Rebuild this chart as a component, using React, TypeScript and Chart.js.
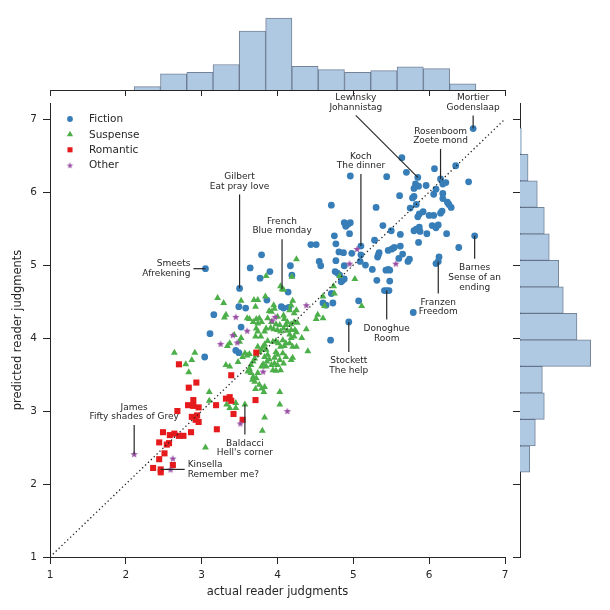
import React, { useEffect, useRef } from "react";
import { Chart, registerables } from "chart.js";
import { drawPoint } from "chart.js/helpers";

Chart.register(...registerables);

const FONT = '"DejaVu Sans", "Liberation Sans", sans-serif';
const INK = "#262626";
const BLUE = "#377eb8";
const GREEN = "#4daf4a";
const RED = "#e41a1c";
const PURPLE = "#984ea3";
const HIST_FILL = "rgb(176,201,227)";
const HIST_EDGE = "rgba(80,100,126,0.8)";

// ---- scatter data: [actual, predicted] ----
const fictionPoints: number[][] = [
  [6.58, 6.87], [5.64, 6.47], [6.07, 6.32], [6.35, 6.36], [5.70, 6.27], [4.96, 6.22], [5.44, 6.21],
  [5.85, 6.20], [6.15, 6.18], [6.22, 6.13], [5.82, 6.11], [5.86, 6.08], [5.96, 6.09], [6.52, 6.14],
  [6.18, 6.11], [5.80, 6.05], [6.09, 6.04], [5.61, 5.95], [5.80, 5.94], [5.78, 5.92], [6.18, 5.98],
  [6.06, 5.97], [6.18, 5.91], [6.24, 5.86], [6.26, 5.83], [6.29, 5.79], [4.71, 5.82], [5.30, 5.79],
  [5.83, 5.83], [5.75, 5.78], [5.87, 5.70], [5.85, 5.66], [5.92, 5.73], [6.00, 5.68], [6.06, 5.68],
  [6.15, 5.71], [6.17, 5.74], [4.88, 5.58], [4.93, 5.56], [4.96, 5.58], [4.90, 5.53], [5.39, 5.54],
  [6.04, 5.54], [6.09, 5.51], [6.12, 5.55], [5.87, 5.52], [5.83, 5.49], [5.80, 5.47], [5.88, 5.46],
  [5.97, 5.43], [6.23, 5.43], [4.75, 5.40], [4.95, 5.43], [5.50, 5.47], [5.62, 5.42], [6.60, 5.40],
  [5.86, 5.31], [6.39, 5.24], [4.77, 5.29], [4.44, 5.28], [4.51, 5.28], [5.10, 5.26], [5.28, 5.34],
  [4.81, 5.18], [4.87, 5.17], [4.98, 5.16], [5.10, 5.14], [5.34, 5.17], [5.33, 5.14], [5.32, 5.11],
  [5.46, 5.20], [5.51, 5.22], [5.54, 5.24], [5.62, 5.26], [5.65, 5.15], [5.60, 5.09], [5.74, 5.08],
  [5.72, 5.05], [6.13, 5.11], [6.12, 5.05], [6.09, 5.02], [4.77, 5.06], [4.88, 4.99], [5.09, 5.05],
  [5.16, 5.00], [5.25, 4.94], [5.43, 4.93], [5.46, 4.94], [5.48, 4.93], [4.55, 5.05], [4.57, 4.99],
  [4.76, 4.91], [4.79, 4.89], [4.82, 4.86], [4.86, 4.79], [4.84, 4.77], [4.88, 4.81], [5.31, 4.79],
  [5.48, 4.78], [5.41, 4.65], [5.44, 4.65], [5.47, 4.65], [5.07, 4.51], [5.79, 4.35], [4.73, 4.48],
  [4.64, 4.45], [4.60, 4.48], [4.94, 4.22], [4.70, 3.97], [3.79, 5.14], [3.64, 4.96], [3.90, 4.91],
  [4.17, 4.99], [3.77, 4.82], [4.19, 4.86], [3.05, 4.95], [3.50, 4.68], [4.14, 4.63], [3.49, 4.43],
  [3.58, 4.41], [4.05, 4.43], [4.08, 4.41], [4.15, 4.42], [3.16, 4.32], [3.52, 4.15], [3.11, 4.06],
  [3.45, 3.83], [3.49, 3.80], [3.04, 3.74], [3.86, 4.52], [4.71, 4.61],
];

const suspensePoints: number[][] = [
  [4.25, 5.08], [3.85, 4.85], [4.19, 4.84], [4.04, 4.71], [4.06, 4.67], [4.08, 4.66], [4.82, 4.85],
  [5.02, 4.81], [4.74, 4.71], [4.75, 4.61], [5.11, 4.44], [3.21, 4.55], [3.29, 4.48], [3.32, 4.32],
  [3.52, 4.51], [3.69, 4.52], [3.74, 4.52], [3.84, 4.57], [3.71, 4.43], [3.95, 4.45], [3.96, 4.40],
  [3.89, 4.37], [3.92, 4.36], [4.20, 4.51], [4.18, 4.45], [4.16, 4.38], [4.22, 4.34], [4.25, 4.38],
  [4.00, 4.29], [4.08, 4.31], [3.60, 4.27], [3.63, 4.26], [3.72, 4.26], [3.76, 4.27], [3.68, 4.22],
  [3.74, 4.20], [3.79, 4.22], [3.30, 4.28], [3.87, 4.27], [3.92, 4.22], [3.98, 4.19], [4.03, 4.18],
  [4.09, 4.26], [4.13, 4.22], [4.11, 4.18], [4.18, 4.19], [4.22, 4.22], [4.26, 4.21], [4.51, 4.26],
  [4.53, 4.32], [4.60, 4.27], [3.72, 4.13], [3.85, 4.13], [3.83, 4.09], [3.74, 4.09], [3.71, 4.02],
  [3.78, 4.02], [3.91, 4.14], [3.95, 4.12], [4.00, 4.11], [4.04, 4.09], [4.08, 4.13], [4.13, 4.10],
  [4.18, 4.11], [4.23, 4.11], [4.25, 4.08], [4.16, 4.05], [4.38, 4.12], [3.43, 4.04], [3.37, 3.93],
  [3.34, 3.89], [3.52, 4.00], [3.50, 3.95], [3.87, 3.96], [3.83, 3.91], [3.81, 3.88], [3.79, 3.84],
  [3.94, 3.95], [3.98, 3.96], [4.01, 3.93], [4.07, 3.97], [4.04, 3.88], [4.09, 3.89], [4.11, 3.93],
  [4.18, 4.00], [4.22, 4.02], [4.16, 3.93], [4.20, 3.88], [4.25, 3.88], [4.32, 4.00], [4.40, 3.82],
  [3.57, 3.79], [3.60, 3.76], [3.63, 3.78], [3.54, 3.74], [3.74, 3.88], [3.76, 3.81], [3.72, 3.77],
  [3.70, 3.72], [3.68, 3.68], [3.65, 3.63], [3.63, 3.58], [3.61, 3.54], [3.65, 3.52], [3.85, 3.84],
  [3.87, 3.77], [3.83, 3.74], [3.89, 3.71], [3.86, 3.68], [3.81, 3.64], [3.79, 3.61], [3.85, 3.61],
  [3.92, 3.63], [3.96, 3.65], [3.98, 3.81], [4.00, 3.77], [3.96, 3.73], [4.03, 3.70], [4.00, 3.63],
  [3.98, 3.55], [3.94, 3.56], [4.04, 3.56], [4.07, 3.79], [4.11, 3.74], [4.08, 3.65], [4.18, 3.70],
  [4.20, 3.73], [3.32, 3.63], [3.37, 3.61], [3.48, 3.67], [3.74, 3.52], [3.72, 3.45], [3.70, 3.40],
  [3.76, 3.36], [3.79, 3.31], [3.83, 3.33], [3.82, 3.26], [4.03, 3.26], [2.64, 3.80], [2.91, 3.80],
  [2.87, 3.70], [2.79, 3.64], [2.83, 3.53], [3.10, 3.26], [3.10, 3.14], [3.33, 3.09], [3.37, 3.04],
  [3.45, 3.11], [3.45, 3.04], [3.57, 3.09], [3.83, 2.91], [4.03, 3.09], [3.80, 2.73], [3.05, 2.50],
  [3.71, 3.30], [3.67, 3.43], [3.68, 3.47], [4.60, 4.57], [4.62, 4.44],
];

const romanticPoints: number[][] = [
  [3.72, 3.80], [2.70, 3.64], [3.39, 3.49], [2.93, 3.39], [2.83, 3.32], [2.89, 3.15], [2.82, 3.08],
  [2.89, 3.07], [2.96, 3.05], [2.68, 3.00], [3.32, 3.17], [3.37, 3.19], [3.39, 3.14], [3.19, 3.08],
  [3.71, 3.15], [3.42, 2.96], [3.54, 2.88], [2.87, 2.92], [2.94, 2.94], [2.92, 2.88], [2.96, 2.85],
  [3.20, 2.75], [2.49, 2.71], [2.58, 2.67], [2.64, 2.69], [2.70, 2.66], [2.76, 2.66], [2.86, 2.71],
  [2.44, 2.57], [2.54, 2.54], [2.57, 2.56], [2.51, 2.42], [2.44, 2.34], [2.36, 2.22], [2.46, 2.20],
  [2.46, 2.16], [2.62, 2.26],
];

const otherPoints: number[][] = [
  [3.45, 4.29], [3.60, 4.10], [3.41, 4.04], [3.25, 3.92], [3.47, 3.94], [3.93, 4.24], [3.97, 4.29],
  [4.38, 4.45], [3.81, 3.54], [4.13, 3.00], [3.51, 2.83], [2.11, 2.41], [2.62, 2.35], [2.59, 2.20],
  [5.05, 5.22], [4.95, 5.02], [5.56, 5.02],
];

const seriesNames = ["Fiction", "Suspense", "Romantic", "Other"];
const diagonalValues = [1, 7];
const axisMin = 1;
const axisMax = 7;
const predictedMax = 7.22;

// ---- marginal histograms ----
const xHistCenters = [2.283, 2.63, 2.977, 3.323, 3.67, 4.017, 4.363, 4.71, 5.057, 5.403, 5.75, 6.097, 6.443];
const xHistHeights = [0.026, 0.125, 0.136, 0.196, 0.454, 0.554, 0.183, 0.157, 0.136, 0.149, 0.178, 0.165, 0.047];
const yHistCenters = [2.342, 2.705, 3.068, 3.431, 3.794, 4.157, 4.52, 4.883, 5.246, 5.609, 5.972, 6.335, 6.698];
const yHistWidths = [0.075, 0.118, 0.187, 0.172, 0.544, 0.438, 0.333, 0.298, 0.225, 0.187, 0.133, 0.062, 0.01];
const histMax = 0.6;

// ---- labelled books ----
const annotationTexts: string[][] = [
  ["Mortier", "Godenslaap"],
  ["Lewinsky", "Johannistag"],
  ["Rosenboom", "Zoete mond"],
  ["Koch", "The dinner"],
  ["Gilbert", "Eat pray love"],
  ["French", "Blue monday"],
  ["Smeets", "Afrekening"],
  ["Barnes", "Sense of an", "ending"],
  ["Franzen", "Freedom"],
  ["Donoghue", "Room"],
  ["Stockett", "The help"],
  ["Baldacci", "Hell's corner"],
  ["James", "Fifty shades of Grey"],
  ["Kinsella", "Remember me?"],
];
const annotationPoints: number[][] = [
  [6.58, 6.87], [5.85, 6.2], [6.15, 6.18], [5.1, 5.26], [3.5, 4.68], [4.06, 4.67], [3.05, 4.95],
  [6.6, 5.4], [6.12, 5.05], [5.44, 4.65], [4.94, 4.22], [3.57, 3.09], [2.11, 2.41], [2.46, 2.2],
];
// leader line offsets in pixels (layout only)
const annotationOffsets: number[][] = [
  [0, -13], [-62, -62], [0, -30], [0, -72], [0, -94], [0, -50], [-12, 0],
  [0, 23], [0, 32], [0, 29], [0, 30], [0, 30], [0, -29], [24, 0],
];

function makeStar(color: string, outer: number, inner: number) {
  const size = Math.ceil(outer * 2) + 2;
  const c = document.createElement("canvas");
  c.width = size;
  c.height = size;
  const g = c.getContext("2d")!;
  g.fillStyle = color;
  g.beginPath();
  for (let i = 0; i < 10; i++) {
    const r = i % 2 === 0 ? outer : inner;
    const a = -Math.PI / 2 + (i * Math.PI) / 5;
    const px = size / 2 + r * Math.cos(a);
    const py = size / 2 + r * Math.sin(a) + 0.4;
    if (i === 0) g.moveTo(px, py);
    else g.lineTo(px, py);
  }
  g.closePath();
  g.fill();
  return c;
}

const toXY = (pts: number[][]) => pts.map(([x, y]) => ({ x, y }));

const labelPlugin = {
  id: "bookLabels",
  afterDraw(chart: any) {
    const { ctx } = chart;
    const xs = chart.scales.x;
    const ys = chart.scales.y;
    const LH = 9.7;
    ctx.save();
    ctx.strokeStyle = INK;
    ctx.fillStyle = INK;
    ctx.lineWidth = 1.2;
    ctx.font = `9px ${FONT}`;
    ctx.textBaseline = "middle";
    annotationTexts.forEach((lines, i) => {
      const [vx, vy] = annotationPoints[i];
      const [dx, dy] = annotationOffsets[i];
      const px = xs.getPixelForValue(vx);
      const py = ys.getPixelForValue(vy);
      const ex = px + dx;
      const ey = py + dy;
      ctx.beginPath();
      ctx.moveTo(px, py);
      ctx.lineTo(ex, ey);
      ctx.stroke();
      const n = lines.length;
      lines.forEach((t, k) => {
        if (dy < 0) {
          ctx.textAlign = "center";
          ctx.fillText(t, ex, ey - 8 - (n - 1 - k) * LH);
        } else if (dy > 0) {
          ctx.textAlign = "center";
          ctx.fillText(t, ex, ey + 9 + k * LH);
        } else if (dx < 0) {
          ctx.textAlign = "right";
          ctx.fillText(t, ex - 3, ey + (k - (n - 1) / 2) * LH);
        } else {
          ctx.textAlign = "left";
          ctx.fillText(t, ex + 3, ey + (k - (n - 1) / 2) * LH);
        }
      });
    });
    ctx.restore();
  },
};

const legendRadius = [2.9, 3.6, 3.6, 0];
const insetLegendPlugin = {
  id: "insetLegend",
  afterDraw(chart: any) {
    const { ctx, chartArea } = chart;
    ctx.save();
    ctx.font = `10.5px ${FONT}`;
    ctx.textBaseline = "middle";
    ctx.textAlign = "left";
    seriesNames.forEach((name, k) => {
      const ds = chart.data.datasets[k];
      const cy = chartArea.top + 16 + k * 15.4;
      const mx = chartArea.left + 20;
      ctx.fillStyle = ds.backgroundColor;
      drawPoint(ctx, { pointStyle: ds.legendStyle || ds.pointStyle, radius: legendRadius[k], rotation: 0, borderWidth: 0 } as any, mx, cy);
      ctx.fillStyle = INK;
      ctx.fillText(name, chartArea.left + 39, cy + 0.5);
    });
    ctx.restore();
  },
};

export default function App() {
  const mainRef = useRef<HTMLCanvasElement>(null);
  const topRef = useRef<HTMLCanvasElement>(null);
  const rightRef = useRef<HTMLCanvasElement>(null);

  useEffect(() => {
    const star = makeStar(PURPLE, 3.9, 1.6);
    const legendStar = makeStar(PURPLE, 3.4, 1.4);
    const tickFont = { family: FONT, size: 10.5 };
    const titleFont = { family: FONT, size: 11.5 };

    const main = new Chart(mainRef.current!, {
      type: "scatter",
      data: {
        datasets: [
          { label: seriesNames[0], data: toXY(fictionPoints), pointStyle: "circle", pointRadius: 3.4, backgroundColor: BLUE, borderWidth: 0, order: 4 } as any,
          { label: seriesNames[1], data: toXY(suspensePoints), pointStyle: "triangle", pointRadius: 4.0, backgroundColor: GREEN, borderWidth: 0, order: 3 },
          { label: seriesNames[2], data: toXY(romanticPoints), pointStyle: "rect", pointRadius: 4.3, backgroundColor: RED, borderWidth: 0, order: 2 },
          { label: seriesNames[3], data: toXY(otherPoints), pointStyle: star, legendStyle: legendStar, pointRadius: 4.5, backgroundColor: PURPLE, borderWidth: 0, order: 1 } as any,
          {
            type: "line",
            label: "diagonal",
            data: diagonalValues.map((v) => ({ x: v, y: v })),
            showLine: true,
            borderColor: "#222",
            borderWidth: 1.3,
            borderDash: [1.3, 2.7],
            pointRadius: 0,
            fill: false,
            order: 0,
          } as any,
        ],
      },
      options: {
        responsive: false,
        animation: false,
        events: [],
        layout: { padding: { left: 0, top: 103, right: 105, bottom: 0 } },
        plugins: { legend: { display: false }, tooltip: { enabled: false } },
        scales: {
          x: {
            type: "linear",
            min: axisMin,
            max: axisMax,
            afterFit: (s: any) => {
              s.height = 53;
            },
            ticks: { stepSize: 1, color: INK, font: tickFont, padding: 5 },
            grid: { display: true, drawOnChartArea: false, drawTicks: true, tickLength: 7, color: INK, lineWidth: 1 },
            border: { display: true, color: INK, width: 1 },
            title: { display: true, text: "actual reader judgments", color: INK, font: titleFont, padding: { top: 0, bottom: 11 } },
          },
          y: {
            type: "linear",
            min: axisMin,
            max: predictedMax,
            afterFit: (s: any) => {
              s.width = 50;
            },
            ticks: { stepSize: 1, includeBounds: false, color: INK, font: tickFont, padding: 6 },
            grid: { display: true, drawOnChartArea: false, drawTicks: true, tickLength: 7, color: INK, lineWidth: 1 },
            border: { display: true, color: INK, width: 1 },
            title: { display: true, text: "predicted reader judgments", color: INK, font: titleFont, padding: { top: 11, bottom: 0 } },
          },
        },
      } as any,
      plugins: [labelPlugin, insetLegendPlugin],
    });

    const top = new Chart(topRef.current!, {
      type: "bar",
      data: {
        datasets: [
          {
            data: xHistCenters.map((c, i) => ({ x: c, y: xHistHeights[i] })),
            backgroundColor: HIST_FILL,
            borderColor: HIST_EDGE,
            borderWidth: 1,
            barPercentage: 1,
            categoryPercentage: 1,
          } as any,
        ],
      },
      options: {
        responsive: false,
        animation: false,
        events: [],
        layout: { padding: { left: 50, right: 105, top: 12, bottom: 0 } },
        plugins: { legend: { display: false }, tooltip: { enabled: false } },
        scales: {
          x: {
            type: "linear",
            min: axisMin,
            max: axisMax,
            offset: false,
            afterFit: (s: any) => {
              s.height = 10;
            },
            ticks: { display: false, stepSize: 1 },
            grid: { display: true, offset: false, drawOnChartArea: false, drawTicks: true, tickLength: 6, color: INK },
            border: { display: true, color: INK, width: 1 },
          },
          y: { display: false, min: 0, max: histMax },
        },
      } as any,
    });

    const right = new Chart(rightRef.current!, {
      type: "bar",
      data: {
        datasets: [
          {
            data: yHistCenters.map((c, i) => ({ x: yHistWidths[i], y: c })),
            backgroundColor: HIST_FILL,
            borderColor: HIST_EDGE,
            borderWidth: 1,
            barPercentage: 1,
            categoryPercentage: 1,
          } as any,
        ],
      },
      options: {
        indexAxis: "y",
        responsive: false,
        animation: false,
        events: [],
        layout: { padding: { left: 510, right: 12, top: 103, bottom: 53 } },
        plugins: { legend: { display: false }, tooltip: { enabled: false } },
        scales: {
          y: {
            type: "linear",
            min: axisMin,
            max: predictedMax,
            offset: false,
            afterFit: (s: any) => {
              s.width = 10;
            },
            ticks: { display: false, stepSize: 1, includeBounds: false },
            grid: { display: true, offset: false, drawOnChartArea: false, drawTicks: true, tickLength: 7, color: INK },
            border: { display: true, color: INK, width: 1 },
          },
          x: { display: false, min: 0, max: histMax },
        },
      } as any,
    });

    return () => {
      main.destroy();
      top.destroy();
      right.destroy();
    };
  }, []);

  const abs: React.CSSProperties = { position: "absolute", left: 0, top: 0 };
  return (
    <div style={{ position: "absolute", left: 0, top: 0, width: 610, height: 610, background: "#fff" }}>
      <canvas ref={rightRef} width={610} height={610} style={{ ...abs, width: 610, height: 610 }} />
      <canvas ref={topRef} width={610} height={100} style={{ ...abs, width: 610, height: 100 }} />
      <canvas ref={mainRef} width={610} height={610} style={{ ...abs, width: 610, height: 610 }} />
    </div>
  );
}
